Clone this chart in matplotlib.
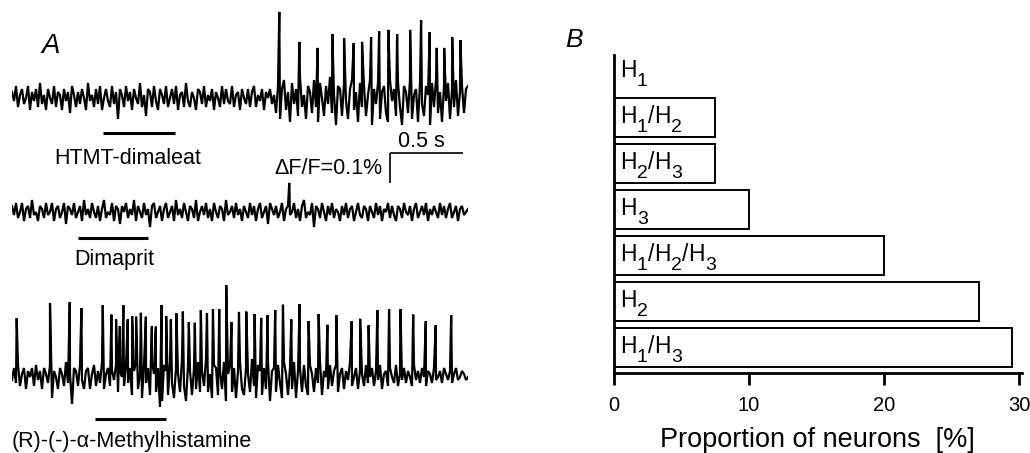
import numpy as np
import matplotlib
matplotlib.use("Agg")
import matplotlib.pyplot as plt

plt.rcParams['font.family'] = ['Liberation Sans', 'DejaVu Sans']

# ---------------- Panel A data (ΔF/F in units of 0.01 %, time in s) ----------------
duration = 3.12

trace1_noise = [
    2, -1, 4, -3, 1, 3, -2, 0, 4, -4, 2, -1, 3, -3, 5, -2, 1, -4, 3, 0,
    -2, 4, -3, 2, 1, -4, 3, -1, 2, -5, 4, 1, -3, 2, -2, 3, 0, -4, 5, -1,
    1, -3, 3, -2, 4, -4, 0, 3, -1, -3, 4, -2, 2, -7, 3, 1, -3, 4, -1, 2,
    -4, 3, 0, -2, 5, -3, 1, -6, 3, 2, -3, 4, -1, -4, 3, 1, -2, 4, -3, 0,
    3, -2, 4, -4, 1, 2, -3, 5, -1, -3, 2, 0, -4, 3, 2, -2, 4, -3, 1, -1,
    3, -4, 2, 0, -3, 4, -2, 3, -1, -2, 4, -3, 1, 2, -4, 3, 0, -2, 3, -3,
    2, 4, -3, 1, -1, 3, -4, 2, 0, 3, -2, 1,
    -5, 4, -7, 3, 6, -4, 2, -8, 5, -2, 3, -6, 7, -3, 1, -7, 4, 2, -5, 6,
    -3, -8, 5, 0, -6, 4, -2, 7, -5, 1, -9, 4, 3, -6, 5, -1, -7, 3, 6, -4,
    2, -8, 5, -3, 4, -6, 1, 6, -9, 3, -2, 5, -7, 2, 4, -5, -8, 6, -1, 3,
    -6, 5, -3, -9, 4, 2, -5, 6, -7, 1, 3, -8, 5, -2, -6, 4, 1, -9, 5, -3,
    6, -5, 2, -8, 4, -1, 5, -7, 3, -3, 6, -6, 2, 4, -5, 3, 4,
]
trace1_spike_t = [1.829, 1.966, 2.091, 2.192, 2.272, 2.338, 2.395, 2.457, 2.512,
                  2.575, 2.635, 2.724, 2.799, 2.858, 2.906, 2.957, 3.012, 3.068]
trace1_spike_h = [28.7, 18.7, 16.7, 21.3, 20.0, 18.3, 18.7, 20.3, 22.3,
                  22.7, 21.3, 22.7, 26.0, 22.0, 16.7, 16.7, 20.3, 19.3]

trace2_noise = [
    2, -1, 3, -2, 0, 3, -3, 1, 2, -2, 4, -1, 0, -3, 2, 1, -2, 3, -1, 0,
    3, -3, 1, 2, -2, 0, 3, -4, 2, 1, -1, 3, -2, 0, 2, -3, 4, -1, 1, -2,
    3, 0, -2, 2, -3, 1, 4, -2, 0, -1, 3, -3, 2, 1, -4, 2, 0, 3, -2, 1,
    -1, 4, -3, 2, 0, -2, 3, -1, 1, -5, 2, 3, -2, 0, 2, -3, 1, 3, -2, 0,
    2, -3, 4, -1, 1, -2, 3, 0, -3, 2, 1, -2, 4, -3, 0, 2, -1, 3, -2, 1,
    -3, 3, 0, -2, 2, 1, -3, 4, -1, 0, 2, -2, 3, -1, 1, -3, 2, 0, -2, 3,
    -1, 2, -3, 1, 3, -2, 0, 2, -4, 3, 1, -1, 2, -2, 0, 3, -3, 1, 2, -1,
    0, 3, -2, 1, -3, 2, 4, -2, 0, -1, 3, -5, 2, 1, -2, 3, 0, -3, 2, -1,
    3, -2, 1, 0, -3, 2, -1, 3, -2, 1, 2, -3, 0, 3, -1, -2, 2, 1, -3, 2,
    0, -2, 3, -1, 2, -3, 1, 0, 3, -2, 2, -1, -3, 2, 1, -2, 3, 0, -1, 2,
    -3, 1, 3, -2, 0, 2, -1, 3, -3, 1, -1, 2, 0, -2, 3, -1, 2, -2, 1, 3,
    -2, 0, 2, -3, 1, 2, -1, 0, 1,
]
trace2_spike_t = [1.897]
trace2_spike_h = [9.7]

trace3_noise = [
    -1, 3, -2, 4, -3, 1, 3, -4, 2, 0, 3, -3, 4, -1, 2, -4, 3, 1, -2, 4,
    -7, 2, 0, -4, 3, 1, -3, 5, -2, 1, -9, 3, 2, -3, 4, -1, -4, 2, 3, -4,
    1, 4, -3, 2, -2, 5, -4, 1, 3, -3, 2, -1, 4, -5, 2, 0, -3, 4, -2, 3,
    -6, 2, 5, -4, 1, -7, 4, -2, 3, -6, 5, 1, -5, 3, -10, -8, 4, 2, -6, 5,
    -2, -7, 3, 1, -5, 6, -3, -8, 4, 2, -6, 3, -4, 5, -5, 2, -3, 6, -5, 1,
    -7, 4, 3, -6, 2, -4, 5, -8, 1, 4, -5, 3, -7, 2, 5, -4, -6, 3, 1, -5,
    6, -3, -7, 4, 2, -6, 3, -4, 5, -8, 2, 3, -5, 4, -2, -7, 5, 1, -6, 3,
    -4, 5, -7, 2, 3, -5, 4, -3, -6, 4, 1, -5, 3, -2, 5, -6, 2, 0, -4, 4,
    -3, 2, 4, -5, 1, 3, -4, 2, -1, 5, -3, 0, 3, -4, 2, 1, -3, 4, -2, 0,
    3, -3, 2, -1, 4, -4, 1, 2, -3, 3, 0, -2, 4, -3, 1, -1, 3, -2, 2, 0,
    -3, 4, -1, 2, -2, 3, 0, -3, 2, 1, -2, 3, -1, 0, 2, -2, 3, 1, -1, 2,
    -2, 1, 3, -1, 0, 2, 1, -1, 0,
]
trace3_spike_t = [0.032, 0.260, 0.395, 0.475, 0.621, 0.680, 0.712, 0.738, 0.762, 0.792,
                  0.822, 0.849, 0.882, 0.916, 0.957, 0.984, 1.023, 1.055, 1.087, 1.125,
                  1.169, 1.210, 1.251, 1.292, 1.334, 1.375, 1.418, 1.466, 1.502, 1.553,
                  1.603, 1.660, 1.705, 1.749, 1.801, 1.854, 1.911, 1.968, 2.029, 2.098,
                  2.158, 2.219, 2.324, 2.382, 2.440, 2.500, 2.580, 2.658, 2.745, 2.831,
                  2.899, 3.005]
trace3_spike_h = [19.6, 24.6, 25.0, 23.0, 23.9, 20.8, 19.2, 17.0, 23.9, 19.2,
                  20.3, 20.1, 21.4, 20.1, 17.0, 16.8, 24.0, 20.3, 19.2, 21.2,
                  21.8, 18.3, 18.1, 22.3, 21.2, 22.6, 22.6, 30.6, 18.3, 21.7,
                  21.8, 21.0, 19.7, 20.6, 22.3, 24.1, 19.2, 24.3, 18.6, 21.0,
                  17.4, 20.6, 18.6, 19.4, 17.2, 22.3, 22.6, 22.6, 20.8, 18.6,
                  17.2, 20.6]

drug_names = ["HTMT-dimaleat", "Dimaprit", "(R)-(-)-\u03b1-Methylhistamine"]
drug_on = [(0.623, 1.116), (0.452, 0.932), (0.568, 1.055)]

scale_time = 0.5      # s
scale_dff = 10        # 0.1 % in units of 0.01 %

# ---------------- Panel B data ----------------
# receptor combinations as (letter, subscript) pieces joined by "/"
receptor_labels = [
    [("H", "1"), ("H", "3")],
    [("H", "2")],
    [("H", "1"), ("H", "2"), ("H", "3")],
    [("H", "3")],
    [("H", "2"), ("H", "3")],
    [("H", "1"), ("H", "2")],
    [("H", "1")],
]
proportions = [29.5, 27.0, 20.0, 10.0, 7.5, 7.5, 0.0]
x_ticks = [0, 10, 20, 30]

# ---------------- Figure ----------------
W, H = 1030, 453
fig = plt.figure(figsize=(W / 100, H / 100), dpi=100)

axA = fig.add_axes([12 / W, 0, 456 / W, 1])
axA.set_xlim(0, duration)
axA.set_ylim(0, H / 3)
axA.axis('off')

traces = [(trace1_noise, trace1_spike_t, trace1_spike_h),
          (trace2_noise, trace2_spike_t, trace2_spike_h),
          (trace3_noise, trace3_spike_t, trace3_spike_h)]
offsets = [(H - 98) / 3, (H - 212) / 3, (H - 377) / 3]
bar_drop = [-11.7, -8.7, -14.0]

for (noise, st, sh), off in zip(traces, offsets):
    noise = np.asarray(noise, float)
    tn = np.linspace(0, duration, len(noise))
    t_all = np.concatenate([tn, st])
    y_all = np.concatenate([noise, sh])
    order = np.argsort(t_all, kind='stable')
    axA.plot(t_all[order], y_all[order] + off, color='black', lw=1.6,
             solid_joinstyle='miter')

for (t0, t1), off, d in zip(drug_on, offsets, bar_drop):
    axA.plot([t0, t1], [off + d, off + d], color='black', lw=2.2,
             solid_capstyle='butt')

fs_lab = 15.5
axA.text((128 - 12) / 146, (H - 164) / 3, drug_names[0], ha='center',
         va='baseline', fontsize=fs_lab)
axA.text((114 - 12) / 146, (H - 265) / 3, drug_names[1], ha='center',
         va='baseline', fontsize=fs_lab)
axA.text(0, (H - 447) / 3, drug_names[2], ha='left', va='baseline',
         fontsize=fs_lab, clip_on=False)

# scale bar
sb_t0 = (390 - 12) / 146
sb_y0 = (H - 153) / 3
axA.plot([sb_t0, sb_t0 + scale_time], [sb_y0, sb_y0], color='black', lw=1.2,
         solid_capstyle='butt')
axA.plot([sb_t0, sb_t0], [sb_y0, sb_y0 - scale_dff], color='black', lw=1.2,
         solid_capstyle='butt')
axA.text(sb_t0 + 0.213, sb_y0 + 2, "0.5 s", ha='center',
         va='baseline', fontsize=fs_lab)
axA.text(sb_t0 - 0.055, sb_y0 - 5, "\u0394F/F=0.1%", ha='right',
         va='center', fontsize=fs_lab)

fig.text(41 / W, 1 - 53 / H, "A", fontsize=20, style='italic', va='baseline')
fig.text(565 / W, 1 - 47 / H, "B", fontsize=19, style='italic', va='baseline')

# ---------------- Panel B ----------------
axB = fig.add_axes([614 / W, 80 / H, 407.7 / W, 318 / H])
ypos = np.arange(len(proportions))
axB.barh(ypos, proportions, height=0.85, color='white', edgecolor='black',
         linewidth=1.4)

main_fs, sub_fs, sub_dy = 16.5, 14, -5.5


def draw_receptor_label(ax, x, y, pieces):
    base = ax.text(x, y, pieces[0][0], fontsize=main_fs, ha='left',
                   va='baseline')
    prev = base
    for i, (letter, sub) in enumerate(pieces):
        if i > 0:
            slash = ax.annotate("/", xy=(1, 0), xycoords=(prev, base),
                                fontsize=main_fs, ha='left', va='bottom')
            prev = ax.annotate(letter, xy=(1, 0), xycoords=(slash, base),
                               fontsize=main_fs, ha='left', va='bottom')
        prev = ax.annotate(sub, xy=(1, 0), xycoords=(prev, base),
                           xytext=(0.3, sub_dy), textcoords='offset points',
                           fontsize=sub_fs, ha='left', va='bottom')


for y, pieces in zip(ypos, receptor_labels):
    draw_receptor_label(axB, 0.45, y - 0.12, pieces)

axB.set_xlim(0, 30.2)
axB.set_ylim(-0.554, 6.359)
axB.set_xticks(x_ticks)
axB.set_yticks([])
axB.spines['top'].set_visible(False)
axB.spines['right'].set_visible(False)
axB.spines['left'].set_linewidth(2)
axB.spines['bottom'].set_linewidth(2)
axB.tick_params(axis='x', length=8.5, width=2, pad=8, labelsize=14.5,
                direction='out')
axB.set_xlabel("Proportion of neurons  [%]", fontsize=19.5, labelpad=9)

fig.savefig("out.png", dpi=100)
